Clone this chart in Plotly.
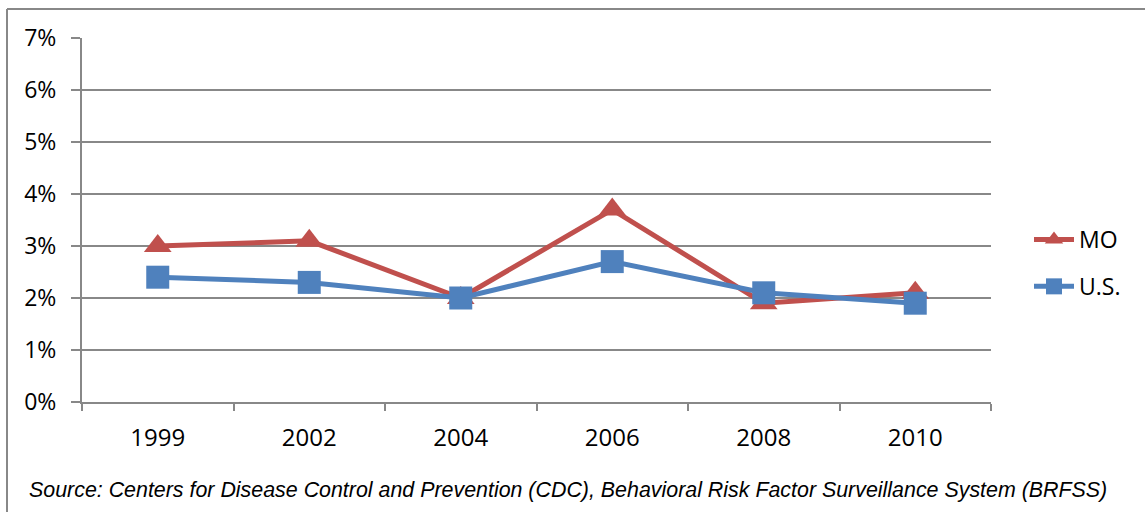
import plotly.graph_objects as go

years = ["1999", "2002", "2004", "2006", "2008", "2010"]
mo_values = [3.0, 3.1, 2.0, 3.7, 1.9, 2.1]
us_values = [2.4, 2.3, 2.0, 2.7, 2.1, 1.9]
y_ticks = [0, 1, 2, 3, 4, 5, 6, 7]
y_tick_labels = [f"{v}%" for v in y_ticks]
source_text = "Source: Centers for Disease Control and Prevention (CDC), Behavioral Risk Factor Surveillance System (BRFSS)"

RED = "#C0504D"
BLUE = "#4F81BD"
GRID = "#888888"
FONT = "Open Sans, Lato, sans-serif"

fig = go.Figure()
fig.add_trace(go.Scatter(
    x=years, y=mo_values, name="MO", mode="lines+markers",
    legendgroup="mo",
    line=dict(color=RED, width=5),
    marker=dict(symbol="triangle-up", size=24, color=RED),
))
fig.add_trace(go.Scatter(
    x=years, y=us_values, name="U.S.", mode="lines+markers",
    legendgroup="us",
    line=dict(color=BLUE, width=5),
    marker=dict(symbol="square", size=23, color=BLUE),
))

L, R, T, B = 82, 154, 38, 110
W, H = 1145, 512
pw, ph = W - L - R, H - T - B

fig.update_layout(
    width=W, height=H,
    margin=dict(l=L, r=R, t=T, b=B, pad=0),
    paper_bgcolor="white", plot_bgcolor="white",
    font=dict(family=FONT, size=24, color="black"),
    showlegend=True,
    legend=dict(
        x=(1029 - L) / pw, y=(ph - (240 - T) + 22) / ph,
        xanchor="left", yanchor="top",
        font=dict(family=FONT, size=23, color="black"),
        tracegroupgap=14, itemwidth=40,
        bgcolor="rgba(0,0,0,0)",
    ),
    xaxis=dict(
        type="category", tickson="boundaries",
        showline=True, linecolor=GRID, linewidth=2,
        ticks="outside", ticklen=7, tickcolor=GRID, tickwidth=2,
        showgrid=False, zeroline=False,
        ticklabelstandoff=13,
        tickfont=dict(family=FONT, size=24, color="black"),
        range=[-0.5, 5.5],
    ),
    yaxis=dict(
        range=[0, 7], tickvals=y_ticks, ticktext=y_tick_labels,
        showline=True, linecolor=GRID, linewidth=2,
        ticks="outside", ticklen=9, tickcolor=GRID, tickwidth=2,
        showgrid=True, gridcolor=GRID, gridwidth=2,
        zeroline=False,
        ticklabelstandoff=10,
        tickfont=dict(family=FONT, size=23, color="black"),
    ),
    shapes=[
        dict(type="line", xref="paper", yref="paper",
             x0=(7 - L) / pw, x1=(W + 5 - L) / pw,
             y0=1 + (T - 9) / ph, y1=1 + (T - 9) / ph,
             line=dict(color=GRID, width=2)),
        dict(type="line", xref="paper", yref="paper",
             x0=(7 - L) / pw, x1=(7 - L) / pw,
             y0=1 + (T - 9) / ph, y1=-(H + 5 - T - ph) / ph,
             line=dict(color=GRID, width=2)),
    ],
    annotations=[
        dict(text=source_text, xref="paper", yref="paper",
             x=(27 - L) / pw, y=-(490 - T - ph) / ph,
             xanchor="left", yanchor="middle", showarrow=False,
             font=dict(family="Liberation Sans, Arial, sans-serif", size=21.4,
                       color="black", style="italic")),
    ],
)

fig.write_html(
    "out.html",
    config={"displayModeBar": False},
    post_script="document.body.style.margin='0';document.body.style.overflow='hidden';",
)
